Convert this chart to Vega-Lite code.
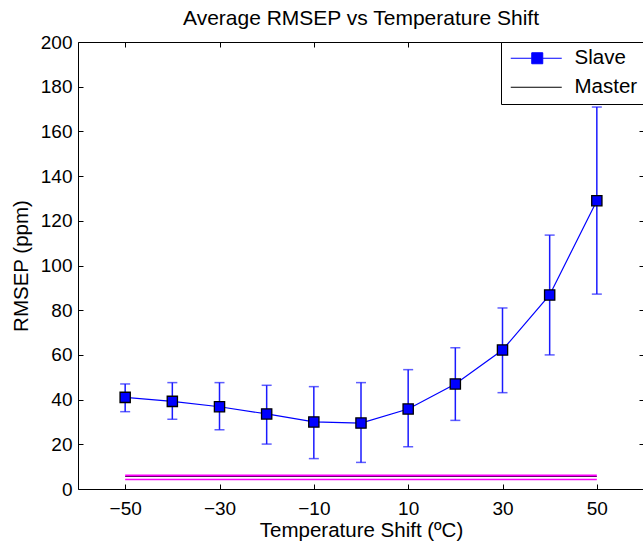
{
  "$schema": "https://vega.github.io/schema/vega-lite/v6.json",
  "width": 566,
  "height": 447,
  "autosize": "none",
  "padding": {"left": 78, "top": 42, "right": 0, "bottom": 52},
  "background": "white",
  "datasets": {
    "slave": [
      {"t": -50, "rmsep": 41.0, "lo": 34.6, "hi": 47.0, "series": "Slave"},
      {"t": -40, "rmsep": 39.2, "lo": 31.2, "hi": 47.6, "series": "Slave"},
      {"t": -30, "rmsep": 36.8, "lo": 26.5, "hi": 47.6, "series": "Slave"},
      {"t": -20, "rmsep": 33.6, "lo": 20.1, "hi": 46.4, "series": "Slave"},
      {"t": -10, "rmsep": 30.0, "lo": 13.6, "hi": 45.8, "series": "Slave"},
      {"t": 0, "rmsep": 29.5, "lo": 11.9, "hi": 47.6, "series": "Slave"},
      {"t": 10, "rmsep": 35.8, "lo": 18.9, "hi": 53.4, "series": "Slave"},
      {"t": 20, "rmsep": 47.0, "lo": 30.7, "hi": 63.2, "series": "Slave"},
      {"t": 30, "rmsep": 62.2, "lo": 43.1, "hi": 81.0, "series": "Slave"},
      {"t": 40, "rmsep": 86.8, "lo": 60.0, "hi": 113.6, "series": "Slave"},
      {"t": 50, "rmsep": 129.0, "lo": 87.2, "hi": 170.9, "series": "Slave"}
    ],
    "master": [
      {"t": -50, "m": 5.6, "mu": 5.9, "ml": 4.3, "series": "Master"},
      {"t": 50, "m": 5.6, "mu": 5.9, "ml": 4.3, "series": "Master"}
    ]
  },
  "config": {
    "view": {"stroke": null},
    "font": "Liberation Sans",
    "title": {"font": "Liberation Sans", "fontSize": 21, "fontWeight": "normal", "color": "#000000", "offset": 4},
    "axis": {
      "grid": false,
      "domainColor": "#000000",
      "domainWidth": 1,
      "tickColor": "#000000",
      "tickWidth": 1,
      "tickSize": -5,
      "labelFont": "Liberation Sans",
      "labelFontSize": 19,
      "labelColor": "#000000",
      "titleFont": "Liberation Sans",
      "titleFontSize": 20.5,
      "titleFontWeight": "normal",
      "titleColor": "#000000"
    },
    "axisBottom": {"labelPadding": 15, "titlePadding": 2},
    "axisLeft": {"labelPadding": 11, "titlePadding": 9},
    "axisTop": {"labels": false, "title": null},
    "axisRight": {"labels": false, "title": null},
    "legend": {
      "labelFont": "Liberation Sans",
      "labelFontSize": 20.5,
      "labelColor": "#000000"
    }
  },
  "title": {"text": "Average RMSEP vs Temperature Shift", "anchor": "middle"},
  "layer": [
    {
      "encoding": {
        "x": {
          "field": "t",
          "type": "quantitative",
          "scale": {"domain": [-60, 60], "nice": false, "zero": false},
          "axis": {"values": [-50, -30, -10, 10, 30, 50], "title": "Temperature Shift (ºC)"}
        }
      },
      "layer": [
        {
          "data": {"name": "master"},
          "mark": {"type": "line", "color": "#ff00ff", "strokeWidth": 2.5},
          "encoding": {
            "y": {
              "field": "mu",
              "type": "quantitative",
              "scale": {"domain": [0, 200], "nice": false},
              "axis": {"values": [0, 20, 40, 60, 80, 100, 120, 140, 160, 180, 200], "title": "RMSEP (ppm)"}
            }
          }
        },
        {
          "data": {"name": "master"},
          "mark": {"type": "line", "color": "#ff00ff", "strokeWidth": 1.5},
          "encoding": {"y": {"field": "ml", "type": "quantitative", "title": "RMSEP (ppm)"}}
        },
        {
          "data": {"name": "master"},
          "mark": {"type": "line", "color": "#000000", "strokeWidth": 1, "strokeOpacity": 0.6},
          "encoding": {"y": {"field": "m", "type": "quantitative", "title": "RMSEP (ppm)"}}
        },
        {
          "data": {"name": "slave"},
          "mark": {"type": "errorbar", "ticks": {"size": 10}, "color": "#1a1aff", "thickness": 1.5},
          "encoding": {
            "y": {"field": "lo", "type": "quantitative", "title": "RMSEP (ppm)"},
            "y2": {"field": "hi"}
          }
        },
        {
          "data": {"name": "slave"},
          "mark": {"type": "line", "color": "#0000ff", "strokeWidth": 1.2},
          "encoding": {"y": {"field": "rmsep", "type": "quantitative", "title": "RMSEP (ppm)"}}
        },
        {
          "data": {"name": "slave"},
          "mark": {"type": "point", "shape": "square", "filled": true, "fill": "#0000ff", "stroke": "#000000", "strokeWidth": 1.3, "size": 105, "opacity": 1},
          "encoding": {"y": {"field": "rmsep", "type": "quantitative", "title": "RMSEP (ppm)"}}
        },
        {
          "data": {"name": "slave"},
          "transform": [{"filter": "false"}],
          "mark": {"type": "point", "size": 100, "strokeWidth": 1, "opacity": 1},
          "encoding": {
            "y": {"field": "rmsep", "type": "quantitative", "title": "RMSEP (ppm)"},
            "shape": {
              "field": "series",
              "type": "nominal",
              "scale": {"domain": ["Slave", "Master"], "range": ["M-1.3,0H2.9M5.1,0H8.9M2.9,-1.1H5.1V1.1H2.9Z", "M-1.3,0H8.9"]},
              "legend": {
                "title": null,
                "orient": "top-right",
                "offset": 0,
                "padding": 6,
                "strokeColor": "#000000",
                "fillColor": "#ffffff",
                "cornerRadius": 0,
                "symbolSize": 100,
                "symbolStrokeWidth": 1,
                "symbolOpacity": 1,
                "labelOffset": 47,
                "rowPadding": 8
              }
            },
            "fill": {
              "field": "series",
              "type": "nominal",
              "scale": {"domain": ["Slave", "Master"], "range": ["#0000ff", "transparent"]}
            },
            "stroke": {
              "field": "series",
              "type": "nominal",
              "scale": {"domain": ["Slave", "Master"], "range": ["#0000ff", "#000000"]}
            }
          }
        }
      ]
    },
    {
      "data": {"name": "master"},
      "mark": {"type": "rule", "opacity": 0},
      "encoding": {
        "x": {
          "field": "t",
          "type": "quantitative",
          "scale": {"domain": [-60, 60], "nice": false, "zero": false},
          "axis": {"orient": "top", "values": [-50, -30, -10, 10, 30, 50], "labels": false, "title": null}
        },
        "y": {
          "field": "m",
          "type": "quantitative",
          "scale": {"domain": [0, 200], "nice": false},
          "axis": {"orient": "right", "values": [0, 20, 40, 60, 80, 100, 120, 140, 160, 180, 200], "labels": false, "title": null}
        }
      }
    }
  ],
  "resolve": {"scale": {"x": "independent", "y": "independent"}}
}
